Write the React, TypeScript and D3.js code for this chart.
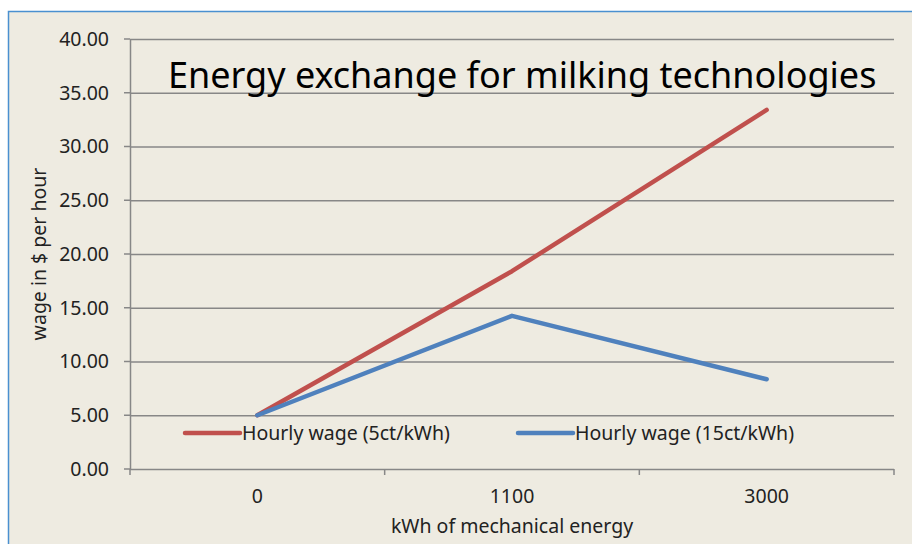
import { useEffect, useRef } from 'react';
import * as d3 from 'd3';

// données
const categories = ['0', '1100', '3000'];
const wage5ct = [5.0, 18.4, 33.4];
const wage15ct = [5.0, 14.25, 8.35];
const yTicks = [0, 5, 10, 15, 20, 25, 30, 35, 40];
const seriesNames = ['Hourly wage (5ct/kWh)', 'Hourly wage (15ct/kWh)'];
const colors = ['#C0504D', '#4F81BD'];

export default function App() {
  const svgRef = useRef<SVGSVGElement>(null);

  useEffect(() => {
    if (!svgRef.current) return;
    const W = 912, H = 544;
    const m = { left: 130, right: 18, top: 39, bottom: 75 };
    const fs = 19.5;

    const svg = d3.select(svgRef.current);
    svg.selectAll('*').remove();
    svg.attr('width', W).attr('height', H);

    // fond + cadre
    svg.append('rect').attr('width', W).attr('height', H).attr('fill', '#fff');
    svg.append('rect')
      .attr('x', 8.5).attr('y', 11.5).attr('width', W + 10).attr('height', H + 10)
      .attr('fill', '#EEEBE1').attr('stroke', '#4A90D0').attr('stroke-width', 1.5);

    const x = d3.scaleBand<string>().domain(categories).range([m.left, W - m.right]);
    const y = d3.scaleLinear().domain([0, 40]).range([H - m.bottom, m.top]);

    const font = '"Noto Sans", "Open Sans", sans-serif';
    const g = svg.append('g');

    // grille horizontale
    g.append('g')
      .attr('transform', `translate(${m.left},0)`)
      .call(d3.axisLeft(y).tickValues(yTicks).tickSize(-(W - m.left - m.right)).tickSizeOuter(0).tickPadding(21).tickFormat(d => (d as number).toFixed(2)))
      .call(ax => ax.select('.domain').attr('stroke', '#878787').attr('stroke-width', 1.5))
      .call(ax => ax.selectAll('.tick line').attr('stroke', '#878787').attr('stroke-width', 1.5))
      .call(ax => ax.selectAll('.tick text').attr('fill', '#222').attr('font-size', fs).attr('font-family', font));

    // petites graduations à gauche
    g.selectAll('.ytick-out').data(yTicks).join('line')
      .attr('x1', m.left - 6).attr('x2', m.left)
      .attr('y1', d => y(d)).attr('y2', d => y(d))
      .attr('stroke', '#878787').attr('stroke-width', 1.5);

    // axe x
    const xAxis = g.append('g').attr('transform', `translate(0,${y(0)})`);
    const bounds = [...categories.map(c => x(c)!), x.range()[1]];
    xAxis.selectAll('line.tk').data(bounds).join('line')
      .attr('x1', d => d).attr('x2', d => d).attr('y1', 0).attr('y2', 6)
      .attr('stroke', '#878787').attr('stroke-width', 1.5);
    xAxis.selectAll('text').data(categories).join('text')
      .attr('x', d => x(d)! + x.bandwidth() / 2).attr('y', 34)
      .attr('text-anchor', 'middle').attr('fill', '#222')
      .attr('font-size', fs).attr('font-family', font)
      .text(d => d);

    // titres d'axes
    svg.append('text')
      .attr('transform', `translate(46,${(y(0) + y(40)) / 2}) rotate(-90)`)
      .attr('text-anchor', 'middle').attr('fill', '#222')
      .attr('font-size', fs).attr('font-family', font)
      .text('wage in $ per hour');
    svg.append('text')
      .attr('x', (m.left + W - m.right) / 2).attr('y', 533)
      .attr('text-anchor', 'middle').attr('fill', '#222')
      .attr('font-size', fs).attr('font-family', font)
      .text('kWh of mechanical energy');

    // séries
    const line = d3.line<number>()
      .x((_, i) => x(categories[i])! + x.bandwidth() / 2)
      .y(d => y(d));
    [wage5ct, wage15ct].forEach((s, i) => {
      g.append('path').datum(s)
        .attr('fill', 'none').attr('stroke', colors[i])
        .attr('stroke-width', 4.5).attr('stroke-linecap', 'round').attr('stroke-linejoin', 'round')
        .attr('d', line);
    });

    // légende
    const legX = [185, 518];
    seriesNames.forEach((name, i) => {
      const lg = svg.append('g').attr('transform', `translate(${legX[i]},433)`);
      lg.append('line').attr('x1', 0).attr('x2', 55).attr('y1', 0).attr('y2', 0)
        .attr('stroke', colors[i]).attr('stroke-width', 4.5).attr('stroke-linecap', 'round');
      lg.append('text').attr('x', 57).attr('y', 7)
        .attr('fill', '#222').attr('font-size', fs).attr('font-family', font)
        .text(name);
    });

    // titre
    svg.append('text')
      .attr('x', 168).attr('y', 88)
      .attr('fill', '#000').attr('font-size', 36).attr('font-family', font)
      .text('Energy exchange for milking technologies');
  }, []);

  return (
    <div style={{ position: 'fixed', left: 0, top: 0 }}>
      <svg ref={svgRef} style={{ display: 'block' }} />
    </div>
  );
}
